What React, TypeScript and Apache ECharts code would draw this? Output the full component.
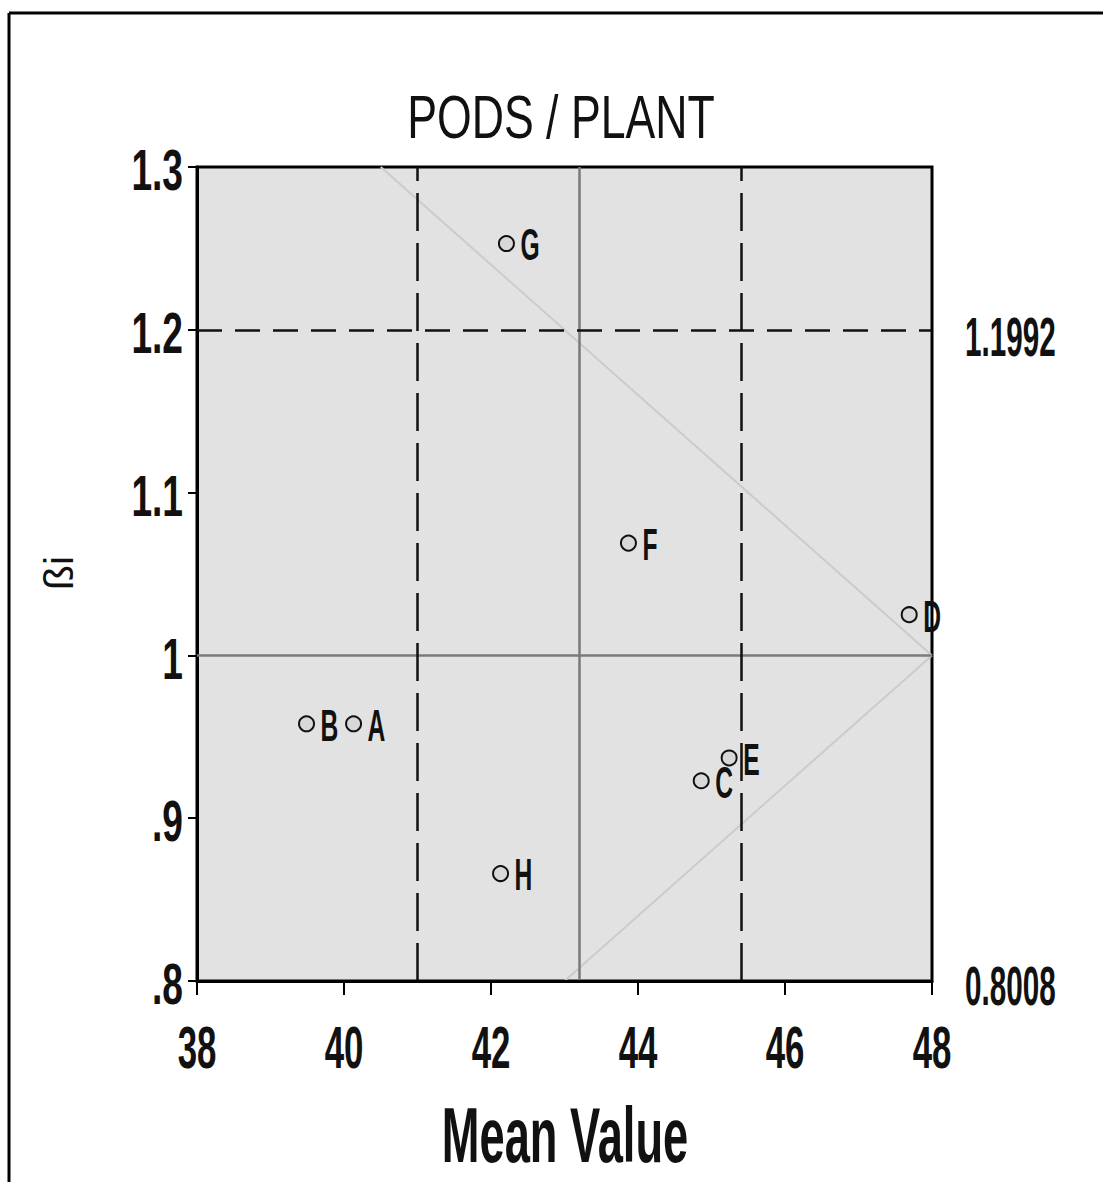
import React, { useEffect, useRef } from "react";
import * as echarts from "echarts";

// ---- data ----
const genotypeNames = ["A", "B", "C", "D", "E", "F", "G", "H"];
const meanValues = [40.13, 39.49, 44.86, 47.69, 45.24, 43.87, 42.21, 42.13];
const betaValues = [0.958, 0.958, 0.923, 1.025, 0.937, 1.069, 1.253, 0.866];

const xTickValues = [38, 40, 42, 44, 46, 48];
const xTickLabels = ["38", "40", "42", "44", "46", "48"];
const yTickValues = [0.8, 0.9, 1.0, 1.1, 1.2, 1.3];
const yTickLabels = [".8", ".9", "1", "1.1", "1.2", "1.3"];

const grandMean = 43.2;
const meanLimits = [41.0, 45.4];
const betaUnity = 1.0;
const betaLimits = [1.1992, 0.8008];
const betaLimitLabels = ["1.1992", "0.8008"];

const upperDiagonalX = [40.5, 48];
const upperDiagonalY = [1.3, 1.0];
const lowerDiagonalX = [43, 48];
const lowerDiagonalY = [0.8, 1.0];

const chartTitle = "PODS / PLANT";
const xAxisTitle = "Mean Value";
const yAxisTitle = "ßi";

const FONT = "'Liberation Sans', Arial, Helvetica, sans-serif";
const INK = "#111111";

function condensedText(
  x: number,
  y: number,
  text: string,
  fontSize: number,
  scaleX: number,
  align: string,
  vAlign: string,
  weight: string
) {
  return {
    type: "text",
    x,
    y,
    scaleX,
    style: {
      text,
      fontSize,
      fontFamily: FONT,
      fontWeight: weight,
      fill: INK,
      align,
      verticalAlign: vAlign,
      textAlign: align,
      textVerticalAlign: vAlign,
    },
  };
}

export default function App() {
  const ref = useRef<HTMLDivElement>(null);

  useEffect(() => {
    if (!ref.current) return;
    const chart = echarts.init(ref.current, undefined, { renderer: "svg" });

    const pointData = meanValues.map((m, i) => [m, betaValues[i]]);

    const option: any = {
      animation: false,
      backgroundColor: "#ffffff",
      grid: {
        left: 197,
        top: 167,
        right: 171,
        bottom: 201,
        show: true,
        backgroundColor: "#e2e2e2",
        borderColor: "#000000",
        borderWidth: 3,
      },
      xAxis: {
        type: "value",
        min: 38,
        max: 48,
        interval: 2,
        axisLine: { show: true, lineStyle: { color: "#000", width: 3 } },
        axisTick: { show: true, length: 14, lineStyle: { color: "#000", width: 2 } },
        axisLabel: { show: false },
        splitLine: { show: false },
      },
      yAxis: {
        type: "value",
        min: 0.8,
        max: 1.3,
        interval: 0.1,
        axisLine: { show: true, lineStyle: { color: "#000", width: 3 } },
        axisTick: { show: true, length: 9, lineStyle: { color: "#000", width: 2 } },
        axisLabel: { show: false },
        splitLine: { show: false },
      },
      graphic: [
        {
          type: "line",
          shape: { x1: 9, y1: 13, x2: 1103, y2: 13 },
          style: { stroke: "#000", lineWidth: 3 },
        },
        {
          type: "line",
          shape: { x1: 9, y1: 13, x2: 9, y2: 1182 },
          style: { stroke: "#000", lineWidth: 3 },
        },
        condensedText(561, 116, chartTitle, 62, 0.72, "center", "middle", "normal"),
        condensedText(565, 1135, xAxisTitle, 78, 0.58, "center", "middle", "bold"),
        {
          type: "text",
          x: 59,
          y: 573,
          rotation: Math.PI / 2,
          style: {
            text: yAxisTitle,
            fontSize: 41,
            fontFamily: FONT,
            fill: INK,
            align: "center",
            verticalAlign: "middle",
            textAlign: "center",
            textVerticalAlign: "middle",
          },
        },
      ],
      series: [
        {
          type: "line",
          data: upperDiagonalX.map((x, i) => [x, upperDiagonalY[i]]),
          symbol: "none",
          silent: true,
          z: 1,
          lineStyle: { color: "#cbcbcb", width: 2 },
        },
        {
          type: "line",
          data: lowerDiagonalX.map((x, i) => [x, lowerDiagonalY[i]]),
          symbol: "none",
          silent: true,
          z: 1,
          lineStyle: { color: "#cbcbcb", width: 2 },
        },
        {
          type: "line",
          data: [],
          silent: true,
          z: 2,
          markLine: {
            silent: true,
            symbol: ["none", "none"],
            label: { show: false },
            data: [
              { xAxis: grandMean, lineStyle: { color: "#7a7a7a", width: 2.5, type: "solid" } },
              { yAxis: betaUnity, lineStyle: { color: "#7a7a7a", width: 2.5, type: "solid" } },
              { xAxis: meanLimits[0], lineStyle: { color: INK, width: 2.5, type: [38, 12] } },
              { xAxis: meanLimits[1], lineStyle: { color: INK, width: 2.5, type: [38, 12] } },
              { yAxis: betaLimits[0], lineStyle: { color: INK, width: 2.5, type: [25, 13] } },
              { yAxis: betaLimits[1], lineStyle: { color: "#000", width: 3, type: "solid" } },
            ],
          },
        },
        {
          type: "scatter",
          data: pointData,
          symbol: "circle",
          symbolSize: 15,
          z: 5,
          itemStyle: { color: "#d8d8d8", borderColor: INK, borderWidth: 2, opacity: 1 },
        },
        {
          type: "custom",
          coordinateSystem: "cartesian2d",
          silent: true,
          z: 6,
          data: pointData,
          renderItem: (params: any, api: any) => {
            const p = api.coord([api.value(0), api.value(1)]);
            return condensedText(
              p[0] + 14,
              p[1] + 2,
              genotypeNames[params.dataIndex],
              44,
              0.56,
              "left",
              "middle",
              "bold"
            );
          },
        },
        {
          type: "custom",
          coordinateSystem: "cartesian2d",
          silent: true,
          z: 6,
          data: xTickValues.map((v) => [v, yTickValues[0]]),
          renderItem: (params: any, api: any) => {
            const p = api.coord([api.value(0), api.value(1)]);
            return condensedText(
              p[0],
              p[1] + 66,
              xTickLabels[params.dataIndex],
              60,
              0.58,
              "center",
              "middle",
              "bold"
            );
          },
        },
        {
          type: "custom",
          coordinateSystem: "cartesian2d",
          silent: true,
          z: 6,
          data: yTickValues.map((v) => [xTickValues[0], v]),
          renderItem: (params: any, api: any) => {
            const p = api.coord([api.value(0), api.value(1)]);
            return condensedText(
              p[0] - 14,
              p[1] + 3,
              yTickLabels[params.dataIndex],
              58,
              0.64,
              "right",
              "middle",
              "bold"
            );
          },
        },
        {
          type: "custom",
          coordinateSystem: "cartesian2d",
          silent: true,
          z: 6,
          data: betaLimits.map((v) => [xTickValues[xTickValues.length - 1], v]),
          renderItem: (params: any, api: any) => {
            const p = api.coord([api.value(0), api.value(1)]);
            return condensedText(
              p[0] + 33,
              p[1] + 5,
              betaLimitLabels[params.dataIndex],
              56,
              0.53,
              "left",
              "middle",
              "bold"
            );
          },
        },
      ],
    };

    chart.setOption(option);
    return () => chart.dispose();
  }, []);

  return (
    <div
      ref={ref}
      style={{ position: "absolute", left: 0, top: 0, width: 1103, height: 1182 }}
    />
  );
}
